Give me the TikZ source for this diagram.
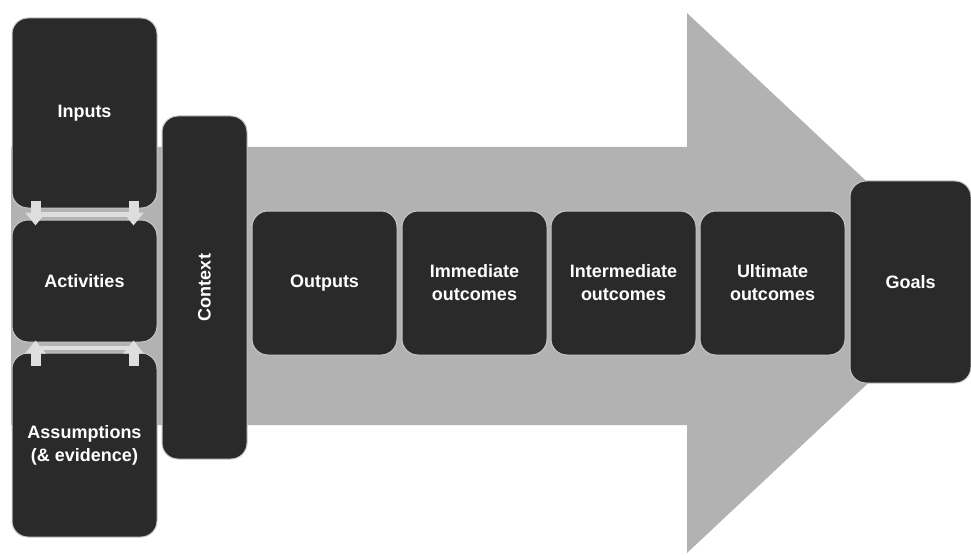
\documentclass[tikz,border=0pt]{standalone}
\usepackage{fontspec}
\setmainfont{Liberation Sans}
\usetikzlibrary{arrows.meta}
\definecolor{boxfill}{RGB}{42,42,42}
\definecolor{boxedge}{RGB}{200,200,200}
\definecolor{bigarrow}{RGB}{178,178,178}
\definecolor{smallarrow}{RGB}{222,222,222}
\tikzset{
  stagebox/.style={draw=boxedge, line width=1pt, fill=boxfill, rounded corners=16pt,
    text=white, align=center, inner sep=2pt,
    font=\bfseries\fontsize{18}{23}\selectfont},
  blockarrow/.style={draw=smallarrow, line width=10pt,
    -{Triangle[width=20pt,length=13pt,fill=smallarrow]}},
  barfill/.style={fill=smallarrow}
}
\begin{document}
\begin{tikzpicture}[x=1pt,y=-1pt]
\useasboundingbox (0,0) rectangle (971,556);
% big background arrow
\fill[bigarrow] (11,147) -- (687,147) -- (687,13) -- (975,283) -- (687,553) -- (687,425) -- (11,425) -- cycle;
% left column
\node[stagebox, minimum width=145pt, minimum height=190pt] (inputs) at (84.5,113) {Inputs};
\node[stagebox, minimum width=145pt, minimum height=122pt] (activities) at (84.5,281) {Activities};
\node[stagebox, minimum width=145pt, minimum height=184pt] (assumptions) at (84.5,445) {Assumptions\\(\& evidence)};
% context
\node[stagebox, minimum width=85pt, minimum height=343pt] (context) at (204.5,287.5) {};
\node[text=white, rotate=90, font=\bfseries\fontsize{18}{23}\selectfont] (contextlabel) at (context.center) {Context};
% chain
\node[stagebox, minimum width=145pt, minimum height=144pt] (outputs) at (324.5,283) {Outputs};
\node[stagebox, minimum width=145pt, minimum height=144pt] (immediate) at (474.5,283) {Immediate\\outcomes};
\node[stagebox, minimum width=145pt, minimum height=144pt] (intermediate) at (623.5,283) {Intermediate\\outcomes};
\node[stagebox, minimum width=145pt, minimum height=144pt] (ultimate) at (772.5,283) {Ultimate\\outcomes};
\node[stagebox, minimum width=121pt, minimum height=202pt] (goals) at (910.5,282) {Goals};
% bars between left boxes
\fill[barfill] ([xshift=-49pt,yshift=-3pt]inputs.south) rectangle ([xshift=49pt,yshift=3pt]activities.north);
\fill[barfill] ([xshift=-49pt,yshift=-3pt]activities.south) rectangle ([xshift=49pt,yshift=3pt]assumptions.north);
% small block arrows
\draw[blockarrow] ([xshift=-49pt,yshift=8pt]inputs.south) -- ([xshift=-49pt,yshift=-6pt]activities.north);
\draw[blockarrow] ([xshift=49pt,yshift=8pt]inputs.south) -- ([xshift=49pt,yshift=-6pt]activities.north);
\draw[blockarrow] ([xshift=-49pt,yshift=-13pt]assumptions.north) -- ([xshift=-49pt,yshift=2pt]activities.south);
\draw[blockarrow] ([xshift=49pt,yshift=-13pt]assumptions.north) -- ([xshift=49pt,yshift=2pt]activities.south);
\end{tikzpicture}
\end{document}
